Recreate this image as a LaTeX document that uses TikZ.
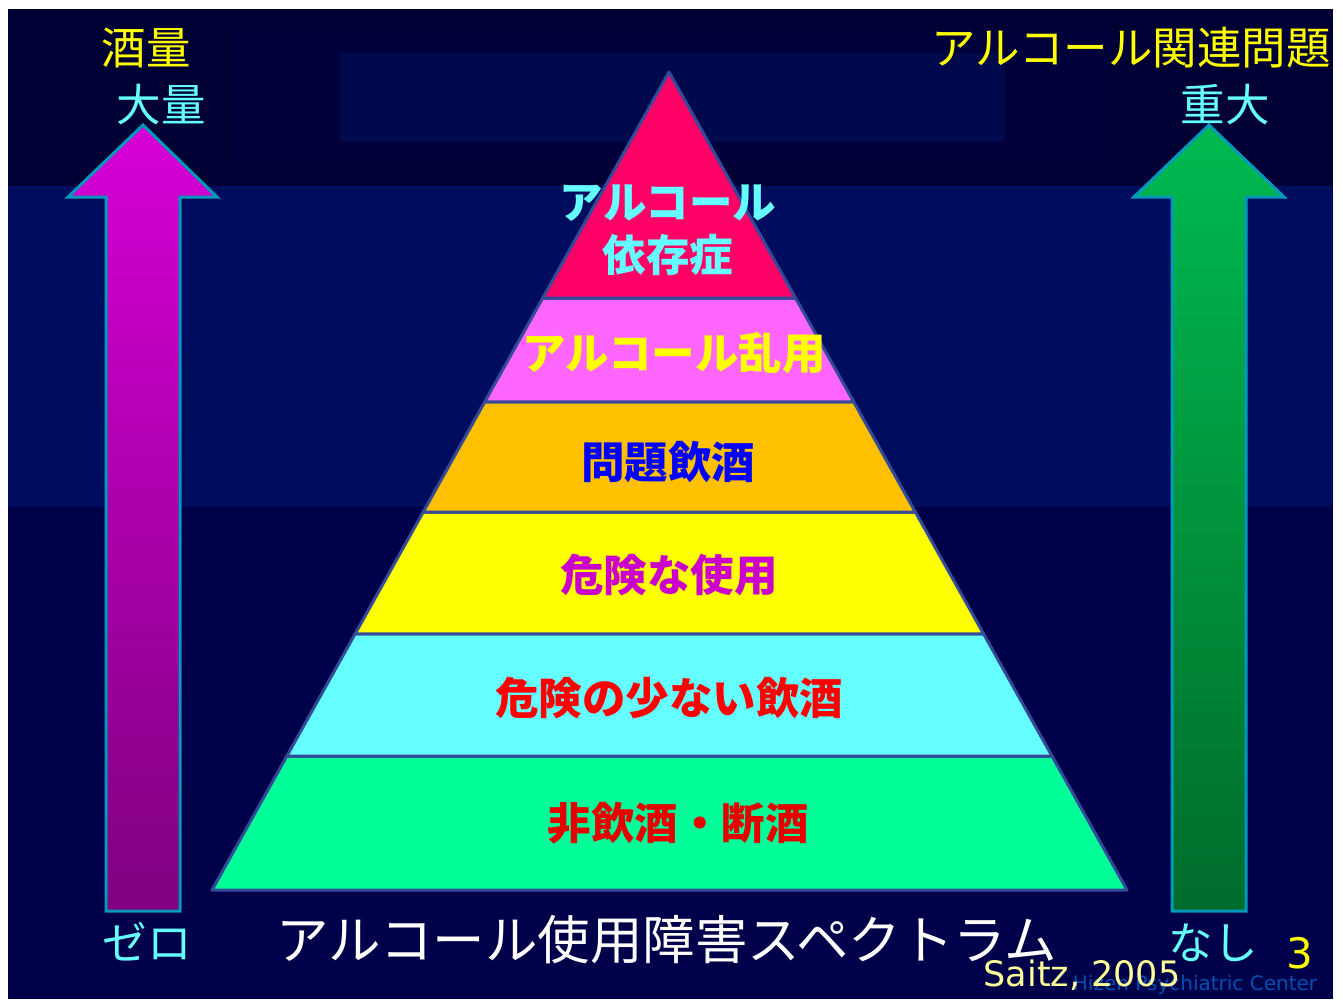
\documentclass[tikz,border=0pt]{standalone}
\usepackage{fontspec}
\setmainfont{DejaVu Sans}
\newfontfamily\jp{Noto Sans CJK JP}
\usetikzlibrary{calc}
\definecolor{bgtop}{HTML}{000035}
\definecolor{bgtopmid}{HTML}{00003B}
\definecolor{bgtopin}{HTML}{00094C}
\definecolor{bgmid}{HTML}{000D5E}
\definecolor{bgbot}{HTML}{00004A}
\definecolor{pyline}{HTML}{334A99}
\definecolor{arrline}{HTML}{0099BB}
\definecolor{lay1}{HTML}{FF0066}
\definecolor{lay2}{HTML}{FF66FF}
\definecolor{lay3}{HTML}{FFC000}
\definecolor{lay4}{HTML}{FFFF00}
\definecolor{lay5}{HTML}{66FFFF}
\definecolor{lay6}{HTML}{00FF99}
\definecolor{tcyan}{HTML}{66FFFF}
\definecolor{tyellow}{HTML}{FFFF00}
\definecolor{tblue}{HTML}{0000FF}
\definecolor{tmag}{HTML}{CC00CC}
\definecolor{tred}{HTML}{FF0000}
\definecolor{tred2}{HTML}{E60000}
\definecolor{saitz}{HTML}{FFFF99}
\definecolor{hizen}{HTML}{0050B0}
\definecolor{magtop}{HTML}{D600D6}
\definecolor{magbot}{HTML}{7F007F}
\definecolor{grntop}{HTML}{00BB50}
\definecolor{grnbot}{HTML}{006B2B}
\tikzset{
  layer/.style={draw=pyline, line width=3pt, line join=round},
  bigarrow/.style={draw=arrline, line width=3pt, line join=miter},
  jpthin/.style={inner sep=0pt, font=\jp\fontsize{44.5}{50}\selectfont},
  jpbold/.style={inner sep=0pt, font=\jp\bfseries\fontsize{43.5}{50}\selectfont},
}
\begin{document}
\begin{tikzpicture}[x=1pt,y=-1pt]
\useasboundingbox (0,0) rectangle (1343,999);
\fill[white] (0,0) rectangle (1343,999);
% background bands
\fill[bgtop] (8,9) rectangle (1333,186);
\fill[bgtopmid] (230,30) rectangle (1110,165);
\fill[bgtopin] (340,53) rectangle (1005,142);
\fill[bgmid] (8,186) rectangle (1333,507);
\fill[bgbot] (8,507) rectangle (1333,999);

% pyramid
\coordinate (apex) at (669,72);
\coordinate (bl) at (212,890);
\coordinate (br) at (1127,890);
\foreach \n/\t in {1/0.2763,2/0.4034,3/0.5379,4/0.6870,5/0.8362}{
  \coordinate (L\n) at ($(apex)!\t!(bl)$);
  \coordinate (R\n) at ($(apex)!\t!(br)$);
}
\fill[lay6, layer] (L5) -- (R5) -- (br) -- (bl) -- cycle;
\fill[lay5, layer] (L4) -- (R4) -- (R5) -- (L5) -- cycle;
\fill[lay4, layer] (L3) -- (R3) -- (R4) -- (L4) -- cycle;
\fill[lay3, layer] (L2) -- (R2) -- (R3) -- (L3) -- cycle;
\fill[lay2, layer] (L1) -- (R1) -- (R2) -- (L2) -- cycle;
\fill[lay1, layer] (apex) -- (R1) -- (L1) -- cycle;

% pyramid labels
\node[jpbold, text=tcyan] (t1a) at (668,203) {アルコール};
\node[jpbold, text=tcyan] (t1b) at (668,255) {依存症};
\node[jpbold, text=tyellow] (t2) at (674,353) {アルコール乱用};
\node[jpbold, text=tblue] (t3) at (668,462) {問題飲酒};
\node[jpbold, text=tmag] (t4) at (669,575) {危険な使用};
\node[jpbold, text=tred] (t5) at (669,698) {危険の少ない飲酒};
\node[jpbold, text=tred2] (t6) at (678,823) {非飲酒・断酒};

% arrows
\shade[bigarrow, top color=magtop, bottom color=magbot]
  (143,125) -- (217,197) -- (180,197) -- (180,911) -- (106,911) -- (106,197) -- (68,197) -- cycle;
\shade[bigarrow, top color=grntop, bottom color=grnbot]
  (1209,125) -- (1284,197) -- (1246,197) -- (1246,911) -- (1172,911) -- (1172,197) -- (1134,197) -- cycle;

% side labels
\node[jpthin, text=tyellow] (sake) at (146,48) {酒量};
\node[jpthin, text=tcyan] (tairyo) at (161,105) {大量};
\node[jpthin, text=tyellow, anchor=east] (kanren) at (1331,48) {アルコール関連問題};
\node[jpthin, text=tcyan] (judai) at (1225,105) {重大};
\node[jpthin, text=tcyan] (zero) at (147,942) {ゼロ};
\node[jpthin, text=tcyan] (nashi) at (1213,943) {なし};
\node[inner sep=0pt, text=white, font=\jp\fontsize{52.5}{58}\selectfont] (title) at (667,940) {アルコール使用障害スペクトラム};
\node[inner sep=0pt, text=tyellow, font=\fontsize{42}{48}\selectfont] (num) at (1300,953) {3};
\node[inner sep=0pt, text=hizen, font=\fontsize{20}{24}\selectfont] (hizen) at (1195,985) {Hizen Psychiatric Center};
\node[inner sep=0pt, text=saitz, font=\fontsize{35}{40}\selectfont] (saitz) at (1082,975) {Saitz, 2005};
\end{tikzpicture}
\end{document}
